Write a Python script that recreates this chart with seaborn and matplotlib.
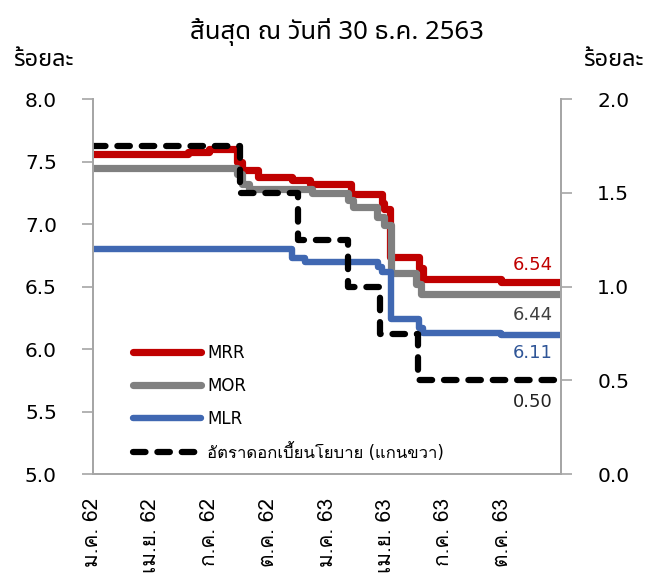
import matplotlib
matplotlib.use("Agg")
import matplotlib.pyplot as plt
import seaborn as sns
import pandas as pd
from matplotlib import font_manager
from matplotlib.ft2font import FT2Font
from matplotlib.lines import Line2D

# step series: date of change -> new value
mrr_dates = ["2019-01-01", "2019-05-29", "2019-07-01", "2019-08-13", "2019-08-22", "2019-09-16",
             "2019-11-08", "2019-12-05", "2020-02-08", "2020-03-26", "2020-03-30", "2020-04-08",
             "2020-05-23", "2020-05-29", "2020-09-28", "2020-12-30"]
mrr_vals = [7.56, 7.58, 7.60, 7.50, 7.43, 7.38, 7.35, 7.32, 7.24, 7.17, 7.12, 6.74, 6.65, 6.56, 6.54, 6.54]

mor_dates = ["2019-01-01", "2019-08-13", "2019-08-22", "2019-09-02", "2019-12-08", "2020-02-02",
             "2020-02-10", "2020-03-19", "2020-03-29", "2020-04-09", "2020-05-19", "2020-05-27",
             "2020-12-30"]
mor_vals = [7.45, 7.40, 7.32, 7.28, 7.25, 7.19, 7.14, 7.06, 6.99, 6.61, 6.52, 6.44, 6.44]

mlr_dates = ["2019-01-01", "2019-11-08", "2019-11-27", "2020-03-21", "2020-03-27", "2020-04-10",
             "2020-05-23", "2020-05-29", "2020-09-28", "2020-12-30"]
mlr_vals = [6.80, 6.73, 6.70, 6.66, 6.62, 6.24, 6.17, 6.13, 6.11, 6.11]

policy_dates = ["2019-01-01", "2019-08-18", "2019-11-17", "2020-02-03", "2020-03-24", "2020-05-21",
                "2020-12-30"]
policy_vals = [1.75, 1.50, 1.25, 1.00, 0.75, 0.50, 0.50]

tick_dates = ["2019-01-01", "2019-04-01", "2019-07-01", "2019-10-01",
              "2020-01-01", "2020-04-01", "2020-07-01", "2020-10-01"]
tick_labels = ["ม.ค. 62", "เม.ย. 62", "ก.ค. 62", "ต.ค. 62", "ม.ค. 63", "เม.ย. 63", "ก.ค. 63", "ต.ค. 63"]

end_labels = ["6.54", "6.44", "6.11", "0.50"]

# fonts that have Thai glyphs
thai_names = []
for f in font_manager.fontManager.ttflist:
    try:
        if ord("ก") in FT2Font(f.fname).get_charmap():
            thai_names.append(f.name)
    except Exception:
        pass
thai_names = sorted(set(thai_names))


def first_of(prefs):
    for p in prefs:
        if p in thai_names:
            return p
    return thai_names[0] if thai_names else "DejaVu Sans"


looped = first_of(["Tahoma", "Loma", "Noto Sans Thai Looped", "IBM Plex Sans Thai Looped"])
loopless = first_of(["Leelawadee UI", "Noto Sans Thai", "IBM Plex Sans Thai", "Anuphan"])

sns.set_style("white")
plt.rcParams["font.family"] = ["DejaVu Sans", looped]
plt.rcParams["text.color"] = "black"

red, grey, blue = "#C00000", "#808080", "#4068B2"
axis_col = "#A6A6A6"

fig = plt.figure(figsize=(6.48, 5.79), dpi=100)
ax = fig.add_axes([0.1435, 0.181, 0.7225, 0.648])
ax2 = ax.twinx()

sns.lineplot(x=pd.to_datetime(mrr_dates), y=mrr_vals, ax=ax, color=red, lw=5.2, drawstyle="steps-post")
sns.lineplot(x=pd.to_datetime(mor_dates), y=mor_vals, ax=ax, color=grey, lw=5.2, drawstyle="steps-post")
sns.lineplot(x=pd.to_datetime(mlr_dates), y=mlr_vals, ax=ax, color=blue, lw=4.6, drawstyle="steps-post")
sns.lineplot(x=pd.to_datetime(policy_dates), y=policy_vals, ax=ax2, color="black", lw=4.5,
             drawstyle="steps-post", linestyle=(0, (2.0, 1.9)), dash_capstyle="round")

ax.set_xlim(pd.Timestamp("2019-01-01"), pd.Timestamp("2020-12-31"))
ax.set_ylim(5.0, 8.0)
ax2.set_ylim(0.0, 2.0)
ax.set_yticks([5.0, 5.5, 6.0, 6.5, 7.0, 7.5, 8.0])
ax.set_yticklabels([f"{v:.1f}" for v in ax.get_yticks()])
ax2.set_yticks([0.0, 0.5, 1.0, 1.5, 2.0])
ax2.set_yticklabels([f"{v:.1f}" for v in ax2.get_yticks()])
ax.set_xticks(pd.to_datetime(tick_dates))
ax.set_xticklabels(tick_labels, rotation=90, va="top", ha="center", family=[looped, "DejaVu Sans"])
ax.set_xlabel("")
ax.set_ylabel("")
ax2.set_ylabel("")

for a in (ax, ax2):
    a.spines["top"].set_visible(False)
    for s in ("left", "right", "bottom"):
        a.spines[s].set_color(axis_col)
        a.spines[s].set_linewidth(1.3)
ax.tick_params(axis="y", direction="out", length=8, width=1.2, color=axis_col, pad=18,
               labelsize=14.5, labelcolor="black")
ax2.tick_params(axis="y", direction="out", length=8, width=1.2, color=axis_col, pad=18,
                labelsize=14.5, labelcolor="black")
ax.tick_params(axis="x", direction="out", length=8, width=1.2, color=axis_col, pad=9,
               labelsize=15, labelcolor="black")

# end-of-series value labels
lab_x = pd.Timestamp("2020-12-18")
ax.text(lab_x, 6.67, end_labels[0], color=red, ha="right", va="center", fontsize=13)
ax.text(lab_x, 6.27, end_labels[1], color="#404040", ha="right", va="center", fontsize=13)
ax.text(lab_x, 5.97, end_labels[2], color="#2F5597", ha="right", va="center", fontsize=13)
ax.text(lab_x, 5.58, end_labels[3], color="#222222", ha="right", va="center", fontsize=13)

handles = [
    Line2D([], [], color=red, lw=5.2),
    Line2D([], [], color=grey, lw=5.2),
    Line2D([], [], color=blue, lw=4.6),
    Line2D([], [], color="black", lw=4.5, linestyle=(0, (2.0, 1.9)), dash_capstyle="round"),
]
names = ["MRR", "MOR", "MLR", "อัตราดอกเบี้ยนโยบาย (แกนขวา)"]
ax.legend(handles, names, loc="lower left", bbox_to_anchor=(0.068, 0.01), frameon=False,
          fontsize=12, handlelength=4.1, handletextpad=0.35, labelspacing=0.9, borderpad=0)

fig.text(0.52, 0.945, "สิ้นสุด ณ วันที่ 30 ธ.ค. 2563", ha="center", va="center", fontsize=18.5,
         family=[loopless, "DejaVu Sans"])
fig.text(0.066, 0.897, "ร้อยละ", ha="center", va="center", fontsize=17, family=[loopless, "DejaVu Sans"])
fig.text(0.947, 0.897, "ร้อยละ", ha="center", va="center", fontsize=17, family=[loopless, "DejaVu Sans"])

fig.savefig("out.png", dpi=100)
